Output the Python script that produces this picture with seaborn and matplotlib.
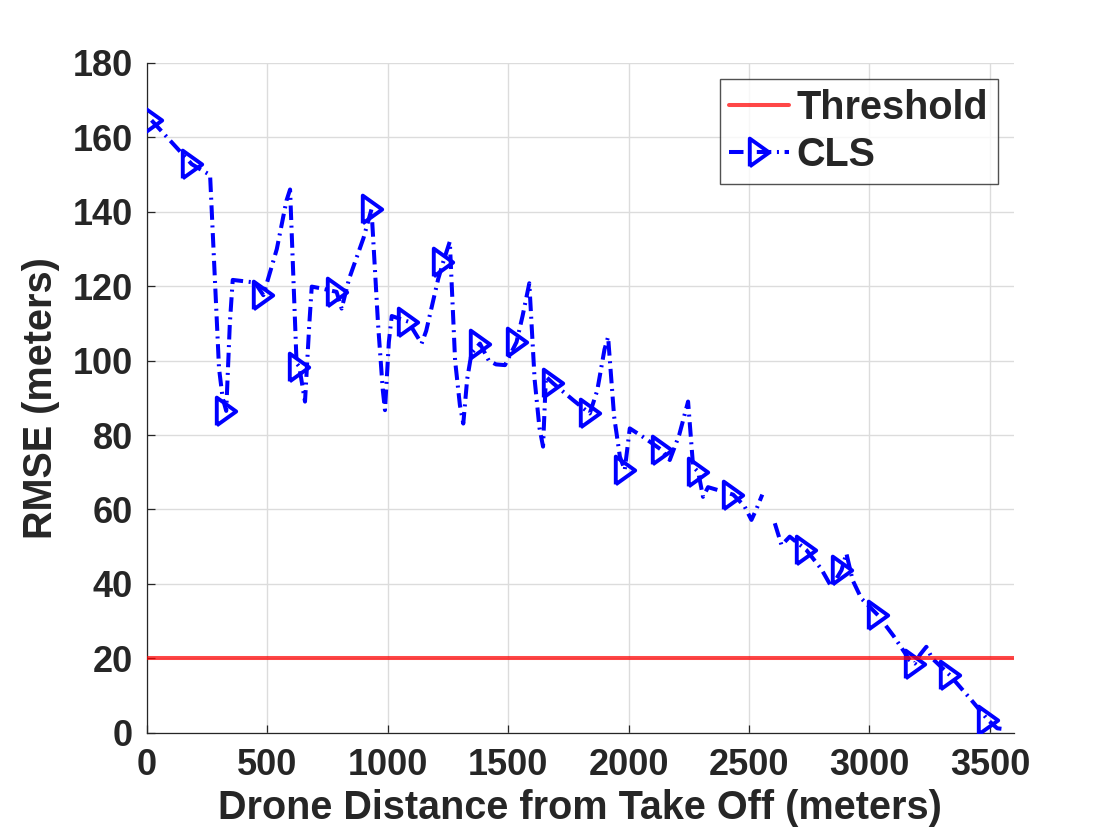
import numpy as np
import pandas as pd
import matplotlib
matplotlib.use("Agg")
import matplotlib.pyplot as plt
from matplotlib.lines import Line2D
import seaborn as sns

# CLS RMSE curve (NaN = gap in the trace)
cls_x = [20, 187, 263, 300, 315, 330, 345, 357, 449, 484, 540, 580, 595, 622, 633, 657, 675, 685,
         726, 788, 809, 840, 900, 933, 960, 980, 989, 1005, 1017, 1085, 1141, 1160, 1210, 1231,
         1258, 1280, 1300, 1314, 1330, 1348, 1383, 1420, 1450, 1487, 1535, 1560, 1588, 1610, 1630,
         1645, 1657, 1687, 1770, 1839, 1870, 1900, 1915, 1940, 1964, 1984, 2005, 2060, 2137, 2171,
         2210, 2247, 2268, 2289, 2309, 2330, 2434, 2480, 2510, 2530, 2555, 2580,
         2607, 2635, 2669, 2738, 2800, 2842, 2884, 2904, 2930, 2966, 3035, 3100, 3167, 3188,
         3210, 3236, 3260, 3333, 3420, 3492, 3530, 3568]
cls_y = [164.6, 152.8, 149.9, 98, 90, 86.5, 110, 121.7, 121, 117.6, 130, 143, 146, 99.3, 98.4, 89, 110, 119.9,
         119.4, 118.5, 114, 122, 133, 140.7, 110, 92, 86.7, 105, 112, 110.5, 104.6, 108, 122, 126.6,
         132, 100, 88, 83.1, 95, 102, 104.6, 100, 99, 98.8, 105, 112, 120.8, 95, 82,
         76.9, 95.7, 93.9, 89.4, 85.8, 92, 103, 106.4, 85, 74.2, 70.6, 81.8, 79.5, 76, 73.3,
         80, 89, 71.5, 70.1, 63.4, 66, 64, 61, 57.2, 60, 64, np.nan,
         56.3, 50.4, 52.7, 49.1, 44, 39.2, 43.7, 48.2, 41, 36.1, 31.6, 26, 19.5, 18.6,
         21, 23.1, 20, 15.5, 9, 3.4, 1.2, 0.9]

# marker positions on the CLS curve
mark_x = [20, 187, 330, 484, 633, 788, 933, 1085, 1231, 1383, 1535, 1687, 1839, 1984, 2137, 2289,
          2434, 2738, 2884, 3035, 3188, 3333, 3492]
mark_y = [164.6, 152.8, 86.5, 117.6, 98.4, 118.5, 140.7, 110.5, 126.6, 104.6, 105, 93.9, 85.8, 70.6,
          76, 70.1, 64, 49.1, 43.7, 31.6, 18.6, 15.5, 3.4]

threshold_x = [0, 3600]
threshold_y = [20, 20]

sns.set_style("ticks")
plt.rcParams['font.family'] = ['Liberation Sans', 'DejaVu Sans']
plt.rcParams['font.weight'] = 'bold'

fig = plt.figure(figsize=(11.2, 8.4), dpi=100)
ax = fig.add_axes([0.131, 0.1277, 0.7744, 0.7973])

blue = '#0000ff'
dash = (0, (3.6, 1.4, 0.5, 1.4))
# tall right-pointing triangle like MATLAB's '>'
tri = [(-0.7, -1), (0.7, 0), (-0.7, 1), (-0.7, -1)]

df = pd.DataFrame({"x": cls_x, "y": cls_y})
gap = df["y"].isna()
seg_id = gap.cumsum()
for _, seg in df[~gap].groupby(seg_id[~gap]):
    sns.lineplot(data=seg, x="x", y="y", ax=ax, sort=False, color=blue,
                 linewidth=2.9, linestyle=dash, estimator=None, zorder=3)
ax.plot(mark_x, mark_y, linestyle='none', marker=tri, markersize=20,
        markerfacecolor='none', markeredgecolor=blue, markeredgewidth=2.8, zorder=3)

sns.lineplot(x=threshold_x, y=threshold_y, ax=ax, color='#ff0000', alpha=0.72,
             linewidth=2.9, zorder=4)

ax.set_xlim(0, 3600)
ax.set_ylim(0, 180)
ax.set_xticks(np.arange(0, 3501, 500))
ax.set_yticks(np.arange(0, 181, 20))
ax.grid(True, color='#dcdcdc', linewidth=1.0)
ax.set_axisbelow(True)
for s in ['top', 'right']:
    ax.spines[s].set_visible(False)
for s in ['left', 'bottom']:
    ax.spines[s].set_color('#262626')
    ax.spines[s].set_linewidth(0.9)
ax.tick_params(direction='in', length=6, width=0.9, color='#262626',
               labelsize=26, labelcolor='#262626')
ax.tick_params(axis='x', pad=11)
ax.tick_params(axis='y', pad=10)
for lab in ax.get_xticklabels() + ax.get_yticklabels():
    lab.set_fontweight('bold')

ax.set_xlabel("Drone Distance from Take Off (meters)", fontsize=28.5, fontweight='bold',
              color='#262626', labelpad=4)
ax.set_ylabel("RMSE (meters)", fontsize=28.5, fontweight='bold', color='#262626', labelpad=9)

handles = [Line2D([], [], color='#ff0000', alpha=0.72, linewidth=2.9),
           Line2D([], [], color=blue, linewidth=2.9, linestyle=dash, marker=tri,
                  markersize=20, markerfacecolor='none', markeredgewidth=2.8)]
leg = fig.legend(handles, ["Threshold", "CLS"], loc='upper right',
                 bbox_to_anchor=(998.3 / 1120, 1 - 79.3 / 840),
                 prop={'weight': 'bold', 'size': 28.5}, frameon=True, fancybox=False,
                 edgecolor='#262626', handlelength=1.5, handletextpad=0.2,
                 borderpad=0.25, labelspacing=0.22, borderaxespad=0)
leg.get_frame().set_linewidth(1.0)

fig.savefig("out.png", dpi=100)
